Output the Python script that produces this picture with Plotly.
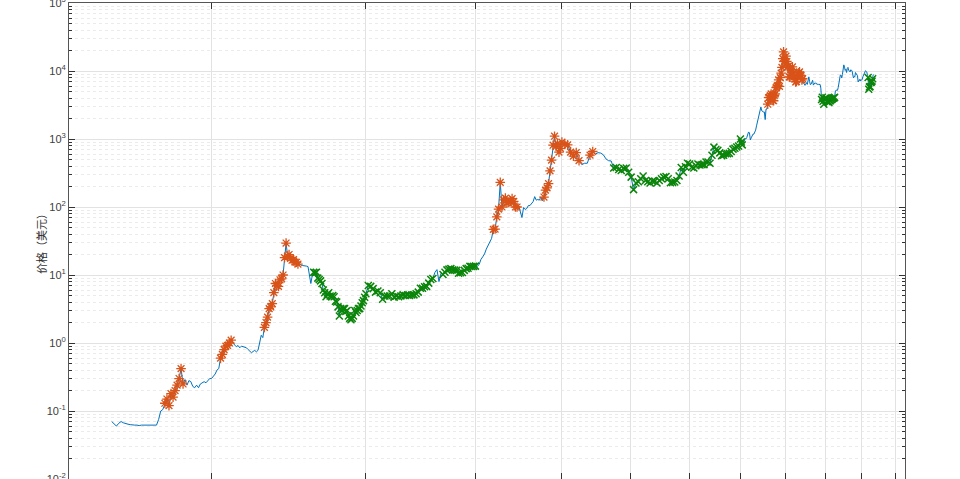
import pandas as pd
import numpy as np
import plotly.graph_objects as go

genesis = pd.Timestamp("2009-01-03")

# Price readings (USD), twice-weekly from 2010-07-18 to end of 2011
price_2010_2011 = [
    0.070, 0.064, 0.060, 0.066, 0.070, 0.067, 0.065, 0.064, 0.063, 0.062,
    0.062, 0.062, 0.061, 0.062, 0.062, 0.061, 0.062, 0.061, 0.062, 0.062,
    0.062, 0.075, 0.100, 0.105, 0.130, 0.150, 0.120, 0.180, 0.160, 0.200,
    0.240, 0.300, 0.420, 0.250, 0.290, 0.240, 0.280, 0.270, 0.230, 0.220,
    0.240, 0.220, 0.250, 0.260, 0.270, 0.260, 0.280, 0.300, 0.300, 0.320,
    0.350, 0.400, 0.420, 0.600, 0.680, 0.800, 0.900, 0.920, 1.000, 1.100,
    1.000, 0.950, 0.880, 0.920, 0.850, 0.900, 0.880, 0.880, 0.850, 0.800,
    0.760, 0.720, 0.750, 0.780, 0.740, 0.780, 1.000, 1.300, 1.200,
    1.70, 2.00, 2.40, 3.20, 3.40, 3.80, 5.50, 7.50, 7.00, 6.80,
    8.50, 8.80, 10.0, 18.0, 29.5, 19.0, 20.0, 17.5, 16.5, 16.8,
    15.5, 15.4, 14.5,
    14.8, 14.0, 13.8, 13.7, 13.9, 13.5, 13.3, 9.8, 7.5, 9.8,
    11.0, 10.8, 11.0, 9.0, 8.6, 8.2, 7.5, 6.0, 5.5, 4.8,
    5.2, 5.5, 4.9, 4.8, 5.0, 4.8, 4.1, 4.0, 3.4, 2.5,
    3.2, 3.0, 3.2, 3.2, 2.9, 3.0, 2.5, 2.3, 2.2, 2.3,
    2.5, 3.0, 2.8, 3.0, 3.2, 3.2, 3.5, 3.9, 4.2, 4.7,
]

# Weekly from 2012-01-01 to 2013-12-29
price_2012_2013 = [
    5.3, 7.0, 6.8, 6.3, 5.6, 5.8, 5.5, 4.4, 4.9, 4.9, 4.9, 5.3, 4.7,
    4.9, 4.8, 4.9, 5.1, 5.0, 5.1, 5.0, 5.1, 5.1, 5.3, 5.6, 6.4, 6.4,
    6.7, 6.8, 7.6, 8.6, 8.9, 10.9, 12.0, 8.0, 10.6, 10.2, 11.0, 11.9, 12.2,
    12.4, 11.9, 11.8, 11.7, 10.6, 10.8, 10.9, 11.7, 12.4, 12.6, 13.4, 13.3,
    13.4, 13.5,
    13.4, 14.2, 16.9, 18.5, 20.4, 24.0, 26.9, 30.3, 34.5, 46.9, 47.4, 71.5, 93.0,
    230, 100, 127, 135, 115, 117, 122, 133, 121, 100, 100, 104, 88,
    70, 98, 92, 95, 105, 105, 113, 120, 142, 126, 129, 126, 141,
    124, 140, 177, 191, 220, 340, 490, 810, 1100, 780, 850, 640, 730,
]

# Every two weeks from 2014-01-05 to 2016-12-18
price_2014_2016 = [
    900, 830, 820, 640, 560, 630, 480, 420, 440, 440, 580, 655, 600,
    630, 620, 585, 510, 480, 475, 375, 380, 355, 345, 370, 375, 325,
    275, 180, 225, 235, 260, 285, 245, 235, 225, 240, 240, 225, 245,
    260, 275, 280, 260, 228, 230, 233, 245, 285, 380, 325, 390, 440,
    430, 385, 375, 405, 430, 415, 420, 420, 460, 460, 440, 575, 760,
    700, 680, 625, 570, 575, 605, 605, 615, 655, 710, 730, 765, 790,
]

# Weekly from 2017-01-01 to 2020-05-03
price_2017_2020 = [
    1000, 900, 820, 920, 920, 1020, 1000, 1050, 1190, 1270, 1230, 970, 1040,
    1100, 1180, 1180, 1250, 1350, 1560, 1780, 2050, 2200, 2520, 2950, 2600, 2500,
    2500, 2500, 1930, 2750, 2750, 3250, 4050, 4100, 4350, 4600, 4250, 3700, 3650,
    4400, 4600, 5700, 6000, 6150, 7400, 5950, 8000, 9300, 11300, 15200, 19100, 13900, 13800,
    16500, 13800, 11500, 11800, 8200, 8100, 10400, 9600, 11500, 9500, 8200, 8400,
    6900, 7000, 8300, 8900, 9400, 9700, 8700, 8500, 7400, 7700, 6700, 6500, 6150,
    6400, 6750, 6350, 7400, 8200, 7000, 6300, 6400, 6700, 7300, 6200, 6500, 6700, 6600,
    6600, 6300, 6450, 6350, 6400, 6350, 5600, 3800, 4100, 3600, 3250, 3950, 3850,
    4050, 3550, 3550, 3550, 3450, 3650, 3650, 3800, 3800, 3900, 4000, 4000, 4100,
    5100, 5100, 5300, 5200, 5700, 7000, 8100, 8700, 8700, 7900, 8900, 10700, 12300,
    11400, 10200, 10600, 9500, 10900, 11300, 10200, 10100, 9700, 10400, 10300, 10000, 8100,
    7900, 8300, 8200, 9500, 9200, 8800, 8500, 6900, 7400, 7500, 7100, 7500, 7300,
    7500, 8200, 8700, 8600, 9400, 10100, 9900, 9700, 8600, 8000, 5400, 5800, 5900,
    6800, 6900, 7100, 7700, 8900,
]

segments = [
    ("2010-07-18", "84h", price_2010_2011),
    ("2012-01-01", "7D", price_2012_2013),
    ("2014-01-05", "14D", price_2014_2016),
    ("2017-01-01", "7D", price_2017_2020),
]

bull_periods = [
    ("2010-10-09", "2010-11-11"),
    ("2011-01-19", "2011-02-12"),
    ("2011-04-19", "2011-07-08"),
    ("2013-03-05", "2013-06-20"),
    ("2013-10-08", "2014-04-03"),
    ("2014-05-20", "2014-06-12"),
    ("2017-08-01", "2018-06-04"),
]
bear_periods = [
    ("2011-08-13", "2012-08-04"),
    ("2012-09-01", "2013-01-05"),
    ("2014-09-20", "2017-01-16"),
    ("2018-11-20", "2019-04-01"),
    ("2020-03-05", "2020-04-30"),
]

year_ticks = ["2011", "2012", "2013", "2014", "2015", "2016",
              "2017", "2018", "2019", "2020", "2021"]
y_tickvals = [0.01, 0.1, 1, 10, 100, 1000, 10000, 100000]
y_ticktext = ["10<sup>-2</sup>", "10<sup>-1</sup>", "10<sup>0</sup>", "10<sup>1</sup>",
              "10<sup>2</sup>", "10<sup>3</sup>", "10<sup>4</sup>", "10<sup>5</sup>"]

dates, prices = [], []
for start, freq, vals in segments:
    dates.extend(pd.date_range(start, periods=len(vals), freq=freq))
    prices.extend(vals)
dates = pd.DatetimeIndex(dates)
prices = np.array(prices, dtype=float)
days = np.asarray((dates - genesis) / pd.Timedelta(days=1))


def in_periods(periods):
    m = np.zeros(len(dates), dtype=bool)
    for a, b in periods:
        m |= (dates >= pd.Timestamp(a)) & (dates <= pd.Timestamp(b))
    return m


bull = in_periods(bull_periods)
bear = in_periods(bear_periods)
year_days = [(pd.Timestamp(y + "-01-01") - genesis).days for y in year_ticks]

BLUE, ORANGE, GREEN = "#0072BD", "#D95319", "#0A850A"

fig = go.Figure()
fig.add_trace(go.Scatter(x=days, y=prices, mode="lines",
                         line=dict(color=BLUE, width=1), hoverinfo="skip"))
fig.add_trace(go.Scatter(x=days[bull], y=prices[bull], mode="markers",
                         marker=dict(symbol="asterisk-open", size=8, color=ORANGE,
                                     line=dict(color=ORANGE, width=1.3))))
fig.add_trace(go.Scatter(x=days[bear], y=prices[bear], mode="markers",
                         marker=dict(symbol="x-thin-open", size=7, color=GREEN,
                                     line=dict(color=GREEN, width=1.5))))

axis_common = dict(showline=True, linecolor="#555555", linewidth=1, mirror="allticks",
                   ticks="inside", ticklen=6, tickcolor="#333333", showgrid=True,
                   gridcolor="#e2e2e2", gridwidth=1, zeroline=False, automargin=False)

fig.update_xaxes(type="log", range=[2.70032, 3.65292], tickmode="array",
                 tickvals=year_days, ticktext=year_ticks, showticklabels=False,
                 **axis_common)
fig.update_yaxes(type="log", range=[-2, 5], tickmode="array",
                 tickvals=y_tickvals, ticktext=y_ticktext, ticklabeloverflow="allow",
                 tickfont=dict(family="Liberation Sans, Arial", size=11, color="#404040"),
                 minor=dict(dtick="D1", ticks="inside", ticklen=3, tickcolor="#333333",
                            showgrid=True, gridcolor="#ebebeb", griddash="dot"),
                 **axis_common)

fig.add_annotation(text="价格（美元）", textangle=-90, xref="paper", yref="paper",
                   x=-0.0335, y=0.5, xanchor="center", yanchor="middle", showarrow=False,
                   font=dict(family="Noto Sans CJK SC", size=11, color="#333333"))

fig.update_layout(width=960, height=479, template="none", showlegend=False,
                  paper_bgcolor="white", plot_bgcolor="white",
                  margin=dict(l=69, r=55, t=3, b=0, autoexpand=False))

fig.write_html("out.html", config={"displayModeBar": False},
               post_script="document.body.style.margin='0';"
                           "document.body.style.overflow='hidden';")
